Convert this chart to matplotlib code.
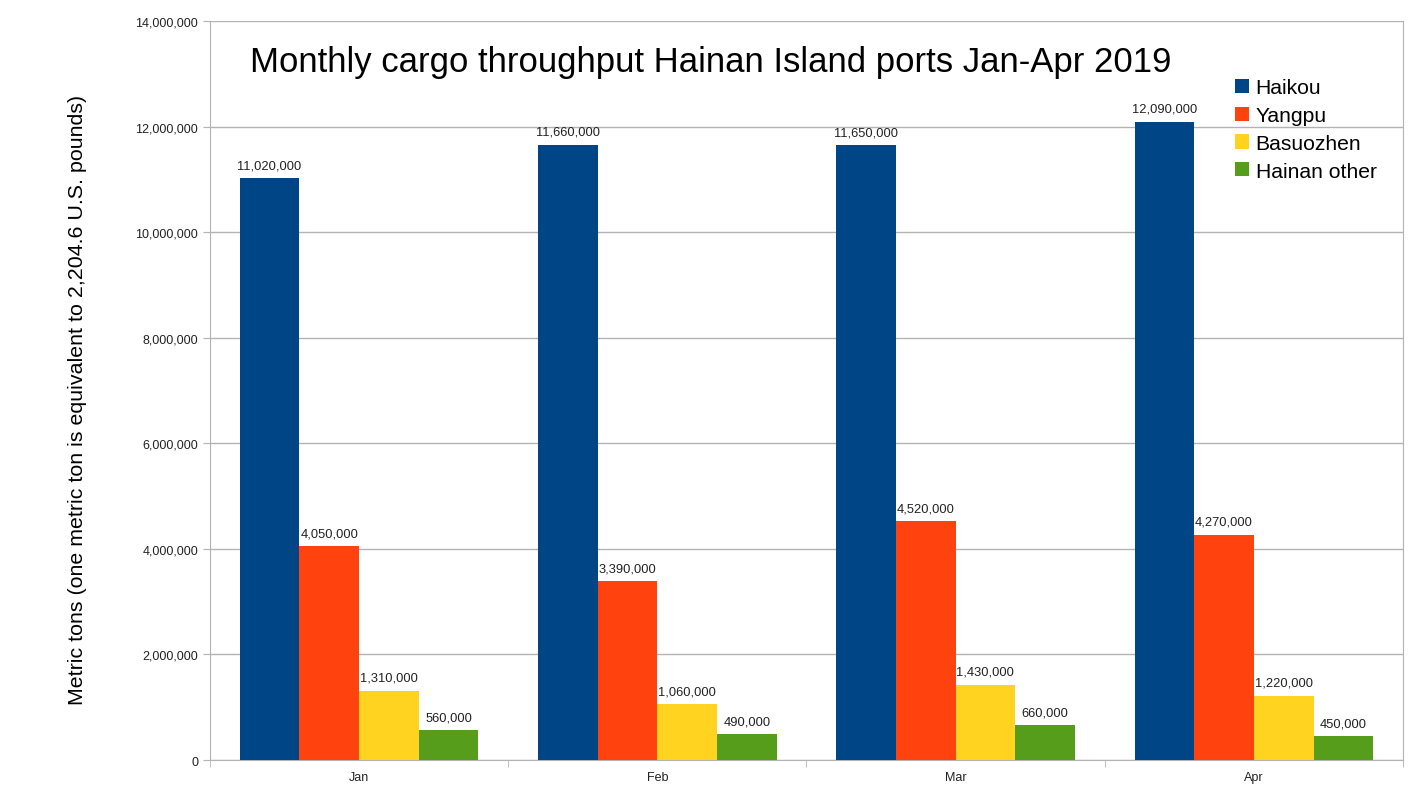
import numpy as np
import matplotlib
matplotlib.use('Agg')
import matplotlib.pyplot as plt
from matplotlib.ticker import FuncFormatter, MultipleLocator

months = ['Jan', 'Feb', 'Mar', 'Apr']
ports = ['Haikou', 'Yangpu', 'Basuozhen', 'Hainan other']
haikou = [11020000, 11660000, 11650000, 12090000]
yangpu = [4050000, 3390000, 4520000, 4270000]
basuozhen = [1310000, 1060000, 1430000, 1220000]
hainan_other = [560000, 490000, 660000, 450000]
colors = ['#004586', '#ff420e', '#ffd320', '#579d1c']

plt.rcParams['font.family'] = ['Liberation Sans', 'DejaVu Sans']

fig = plt.figure(figsize=(14.28, 8.03), dpi=100)
ax = fig.add_axes([0.147, 0.0523, 0.8355, 0.9203])

x = np.arange(len(months))
width = 0.2
series = [haikou, yangpu, basuozhen, hainan_other]
for i, (name, vals, c) in enumerate(zip(ports, series, colors)):
    pos = x - 0.3 + i * width
    bars = ax.bar(pos, vals, width, color=c, label=name, zorder=3)
    for b, v in zip(bars, vals):
        ax.text(b.get_x() + b.get_width() / 2, v + 130000, f'{v:,}',
                ha='center', va='bottom', fontsize=9.3, color='#222222')

ax.set_xlim(-0.5, 3.5)
ax.set_ylim(0, 14000000)
ax.yaxis.set_major_locator(MultipleLocator(2000000))
ax.yaxis.set_major_formatter(FuncFormatter(lambda v, p: f'{int(v):,}'))
ax.set_xticks(x)
ax.set_xticklabels(months)
ax.set_xticks(np.arange(-0.5, 4, 1), minor=True)
ax.tick_params(axis='x', which='major', length=0, labelsize=9, pad=8, colors='#222222')
ax.tick_params(axis='x', which='minor', length=5, direction='out', color='#b3b3b3')
ax.tick_params(axis='y', length=5, labelsize=9, color='#b3b3b3', labelcolor='#222222')
ax.grid(axis='y', color='#b3b3b3', linewidth=1, zorder=0)
for s in ax.spines.values():
    s.set_color('#b3b3b3')
ax.spines['top'].set_visible(False)

fig.text(78 / 1428, 1 - 400 / 803,
         'Metric tons (one metric ton is equivalent to 2,204.6 U.S. pounds)',
         rotation=90, ha='center', va='center', fontsize=15.4)

fig.text(0.498, 0.922, 'Monthly cargo throughput Hainan Island ports Jan-Apr 2019',
         ha='center', va='center', fontsize=25)

leg = ax.legend(loc='upper left', bbox_to_anchor=(0.8525, 0.934), frameon=False,
                fontsize=15.2, handlelength=0.65, handleheight=0.65, handletextpad=0.3,
                labelspacing=0.42, borderaxespad=0)

fig.savefig('out.png', dpi=100)
